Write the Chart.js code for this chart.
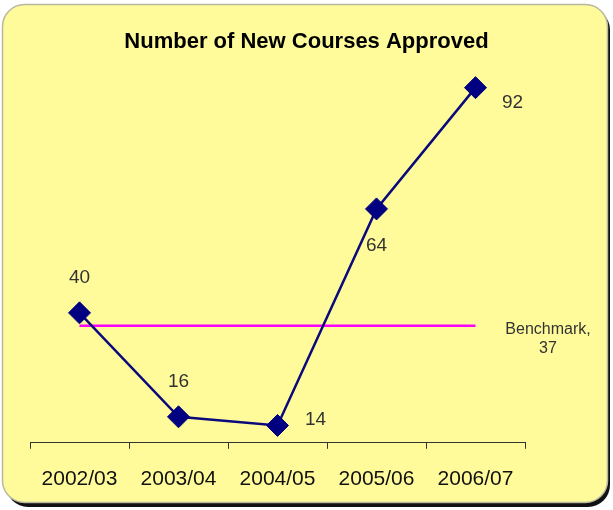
<!DOCTYPE html>
<html>
<head>
<meta charset="utf-8">
<script src="https://cdn.jsdelivr.net/npm/chart.js"></script>
<style>
  body { margin: 0; background: #fff; }
  #wrap { width: 613px; height: 510px; }
</style>
</head>
<body>
<div id="wrap"><canvas id="coursesChart" width="613" height="510"></canvas></div>
<script>
// data
const years = ['2002/03', '2003/04', '2004/05', '2005/06', '2006/07'];
const approved = [40, 16, 14, 64, 92];
const benchmarkValue = 37;
const benchmarkLabel = ['Benchmark,', '37'];
// where each value label sits relative to its point: [dx, dy]
const labelOffsets = [[0, -35], [0, -35], [38, -6], [0, 37], [37, 15]];

const benchmark = years.map(() => benchmarkValue);
const FONT = 'Arial, "Liberation Sans", sans-serif';

const boxPlugin = {
  id: 'box',
  beforeDraw(chart) {
    const ctx = chart.ctx;
    ctx.save();
    ctx.fillStyle = '#fff';
    ctx.fillRect(0, 0, chart.width, chart.height);
    // shadow
    ctx.fillStyle = '#111';
    ctx.beginPath();
    ctx.roundRect(6, 8, 604, 499, 22);
    ctx.fill();
    // panel
    ctx.fillStyle = '#FFFB9B';
    ctx.strokeStyle = '#B8B8A0';
    ctx.lineWidth = 1.5;
    ctx.beginPath();
    ctx.roundRect(2.5, 4.5, 605, 498, 22);
    ctx.fill();
    ctx.stroke();
    ctx.restore();
  }
};

const labelPlugin = {
  id: 'valueLabels',
  afterDatasetsDraw(chart) {
    const ctx = chart.ctx;
    const meta = chart.getDatasetMeta(0);
    ctx.save();
    ctx.font = '19px ' + FONT;
    ctx.fillStyle = '#333';
    ctx.textAlign = 'center';
    ctx.textBaseline = 'middle';
    meta.data.forEach((pt, i) => {
      ctx.fillText(String(approved[i]), pt.x + labelOffsets[i][0], pt.y + labelOffsets[i][1]);
    });
    // benchmark label at the right
    const y = chart.scales.y.getPixelForValue(benchmarkValue);
    const x = chart.chartArea.right + 23;
    ctx.font = '16px ' + FONT;
    ctx.fillText(benchmarkLabel[0], x, y + 4);
    ctx.fillText(benchmarkLabel[1], x, y + 23);
    ctx.restore();
  }
};

new Chart(document.getElementById('coursesChart'), {
  type: 'line',
  data: {
    labels: years,
    datasets: [
      {
        label: 'Approved',
        data: approved,
        borderColor: '#0A0A7A',
        borderWidth: 2.5,
        pointStyle: 'rectRot',
        pointRadius: 11,
        pointBackgroundColor: '#000080',
        pointBorderColor: '#000080',
        pointBorderWidth: 1,
        tension: 0,
        order: 1
      },
      {
        label: 'Benchmark',
        data: benchmark,
        borderColor: '#FF00FF',
        borderWidth: 2.5,
        pointRadius: 0,
        order: 2
      }
    ]
  },
  options: {
    responsive: false,
    animation: false,
    layout: { autoPadding: false, padding: { top: 0, left: 0, right: 0, bottom: 0 } },
    plugins: {
      legend: { display: false },
      tooltip: { enabled: false },
      title: {
        display: true,
        text: 'Number of New Courses Approved',
        color: '#000',
        font: { family: FONT, size: 22, weight: 'bold', lineHeight: 1 },
        padding: { top: 31, bottom: 0 }
      }
    },
    scales: {
      x: {
        offset: true,
        grid: { offset: true, drawOnChartArea: false, tickLength: 6, color: '#333', tickColor: '#333' },
        border: { display: true, color: '#333', width: 1 },
        ticks: {
          color: '#111',
          padding: 18,
          maxRotation: 0,
          font: { family: FONT, size: 21 }
        }
      },
      y: {
        min: 10,
        max: 100,
        grid: { display: false },
        border: { display: false },
        ticks: { display: false },
        afterFit(scale) { scale.width = 30; }
      },
      yRight: {
        position: 'right',
        grid: { display: false },
        border: { display: false },
        ticks: { display: false },
        afterFit(scale) { scale.width = 88; }
      }
    }
  },
  plugins: [boxPlugin, labelPlugin]
});
</script>
</body>
</html>
